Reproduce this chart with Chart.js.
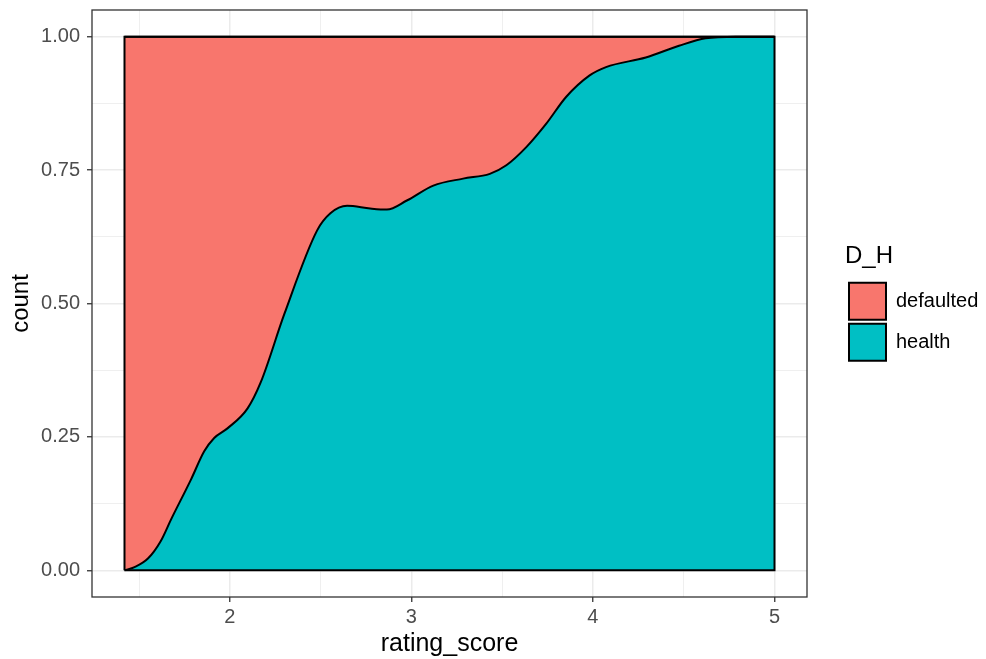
<!DOCTYPE html>
<html lang="en">
<head>
  <meta charset="UTF-8" />
  <title>rating_score density</title>
  <style>
    * { box-sizing: border-box; margin: 0; padding: 0; }
    body, html { background: #ffffff; width: 986px; height: 659px; overflow: hidden; }
    #wrap { width: 986px; height: 659px; }
  </style>
</head>
<body>
  <div id="wrap"><canvas id="densityChart" width="986" height="659"></canvas></div>

  <script src="https://cdn.jsdelivr.net/npm/chart.js"></script>
  <script>
    // share of "health" at each rating_score (ggplot density, position = "fill")
    const scoreX = [1.42, 1.475, 1.549, 1.62, 1.676, 1.786, 1.859, 1.914, 1.987, 2.097, 2.170,
      2.30, 2.481, 2.554, 2.646, 2.773, 2.865, 2.975, 3.121, 3.285, 3.432, 3.523,
      3.633, 3.743, 3.852, 3.980, 4.072, 4.291, 4.474, 4.620, 4.785, 5.0];
    const healthShare = [0, 0.006, 0.022, 0.055, 0.095, 0.170, 0.223, 0.248, 0.266, 0.303, 0.352,
      0.480, 0.637, 0.669, 0.683, 0.678, 0.676, 0.693, 0.721, 0.734, 0.743, 0.759,
      0.793, 0.837, 0.887, 0.927, 0.943, 0.961, 0.983, 0.997, 1.0, 1.0];
    const groups = ['defaulted', 'health'];
    const groupColors = ['#F8766D', '#00BFC4'];

    const xMajor = [2, 3, 4, 5];
    const xLabels = ['2', '3', '4', '5'];
    const xMinor = [1.5, 2.5, 3.5, 4.5];
    const yMajor = [0, 0.25, 0.5, 0.75, 1];
    const yLabels = ['0.00', '0.25', '0.50', '0.75', '1.00'];
    const yMinor = [0.125, 0.375, 0.625, 0.875];

    const FONT = "'Liberation Sans', Arial, sans-serif";
    const xMin = scoreX[0];
    const xMax = scoreX[scoreX.length - 1];
    const xPad = (xMax - xMin) * 0.05;

    const healthPts = scoreX.map((x, i) => ({ x: x, y: healthShare[i] }));
    const topPts = [{ x: xMin, y: 1 }, { x: xMax, y: 1 }];
    const framePts = [{ x: xMin, y: 0 }, { x: xMin, y: 1 }, { x: xMax, y: 1 }, { x: xMax, y: 0 }, { x: xMin, y: 0 }];

    function majorIndex(list, v) {
      return list.findIndex(m => Math.abs(m - v) < 1e-9);
    }
    function tickSet(major, minor) {
      return major.concat(minor).sort((a, b) => a - b).map(v => ({ value: v }));
    }
    function noPadding(s) {
      s.paddingTop = 0; s.paddingBottom = 0; s.paddingLeft = 0; s.paddingRight = 0;
    }

    // panel border + fixed legend placement
    const panelPlugin = {
      id: 'panel',
      beforeLayout(chart) {
        const lg = chart.legend;
        if (lg && !lg._fixed) {
          const fit = lg.fit;
          lg.fit = function () { fit.call(this); this.width = 179; };
          lg._fixed = true;
        }
      },
      afterLayout(chart) {
        chart.legend.left += 38;
        chart.legend.right += 38;
      },
      afterDatasetsDraw(chart) {
        const a = chart.chartArea;
        const ctx = chart.ctx;
        ctx.save();
        ctx.strokeStyle = '#333333';
        ctx.lineWidth = 1.3;
        ctx.strokeRect(a.left, a.top, a.right - a.left, a.bottom - a.top);
        ctx.restore();
      }
    };

    const ctx = document.getElementById('densityChart').getContext('2d');
    new Chart(ctx, {
      type: 'line',
      data: {
        datasets: [
          {
            label: '',
            data: framePts,
            borderColor: '#000000',
            borderWidth: 2,
            fill: false,
            pointRadius: 0,
            tension: 0
          },
          {
            label: groups[0],
            data: topPts,
            borderColor: '#000000',
            borderWidth: 2,
            backgroundColor: groupColors[0],
            fill: '+1',
            pointRadius: 0,
            tension: 0
          },
          {
            label: groups[1],
            data: healthPts,
            borderColor: '#000000',
            borderWidth: 2,
            backgroundColor: groupColors[1],
            fill: 'origin',
            pointRadius: 0,
            cubicInterpolationMode: 'monotone'
          }
        ]
      },
      options: {
        responsive: false,
        animation: false,
        layout: { padding: { top: 10, left: 0, right: 0, bottom: 0 } },
        scales: {
          x: {
            type: 'linear',
            min: xMin - xPad,
            max: xMax + xPad,
            afterBuildTicks: s => { s.ticks = tickSet(xMajor, xMinor); },
            afterFit: s => { s.height = 62; noPadding(s); },
            ticks: {
              autoSkip: false,
              maxRotation: 0,
              padding: 3,
              color: '#4d4d4d',
              font: { family: FONT, size: 20 },
              callback: v => majorIndex(xMajor, v) >= 0 ? xLabels[majorIndex(xMajor, v)] : ''
            },
            grid: {
              color: '#ebebeb',
              lineWidth: c => majorIndex(xMajor, c.tick.value) >= 0 ? 1.5 : 0.8,
              tickColor: c => majorIndex(xMajor, c.tick.value) >= 0 ? '#333333' : 'rgba(0,0,0,0)',
              tickLength: 5,
              tickWidth: 1.3
            },
            border: { display: false },
            title: {
              display: true,
              text: 'rating_score',
              color: '#000000',
              font: { family: FONT, size: 25 },
              padding: { top: 0, bottom: 0 }
            }
          },
          y: {
            type: 'linear',
            min: -0.05,
            max: 1.05,
            afterBuildTicks: s => { s.ticks = tickSet(yMajor, yMinor); },
            afterFit: s => { s.width = 92; noPadding(s); },
            ticks: {
              autoSkip: false,
              padding: 7,
              color: '#4d4d4d',
              font: { family: FONT, size: 20 },
              callback: v => majorIndex(yMajor, v) >= 0 ? yLabels[majorIndex(yMajor, v)] : ''
            },
            grid: {
              color: '#ebebeb',
              lineWidth: c => majorIndex(yMajor, c.tick.value) >= 0 ? 1.5 : 0.8,
              tickColor: c => majorIndex(yMajor, c.tick.value) >= 0 ? '#333333' : 'rgba(0,0,0,0)',
              tickLength: 5,
              tickWidth: 1.3
            },
            border: { display: false },
            title: {
              display: true,
              text: 'count',
              color: '#000000',
              font: { family: FONT, size: 24 },
              padding: { top: 7, bottom: 0 }
            }
          }
        },
        plugins: {
          filler: { drawTime: 'beforeDatasetsDraw' },
          tooltip: { enabled: false },
          legend: {
            position: 'right',
            align: 'start',
            labels: {
              boxWidth: 37,
              boxHeight: 37,
              padding: 4,
              color: '#000000',
              font: { family: FONT, size: 20 },
              filter: item => item.text !== ''
            },
            title: {
              display: true,
              text: 'D_H',
              position: 'start',
              color: '#000000',
              font: { family: FONT, size: 24 },
              padding: { top: 234, bottom: 6 }
            }
          }
        }
      },
      plugins: [panelPlugin]
    });
  </script>
</body>
</html>
